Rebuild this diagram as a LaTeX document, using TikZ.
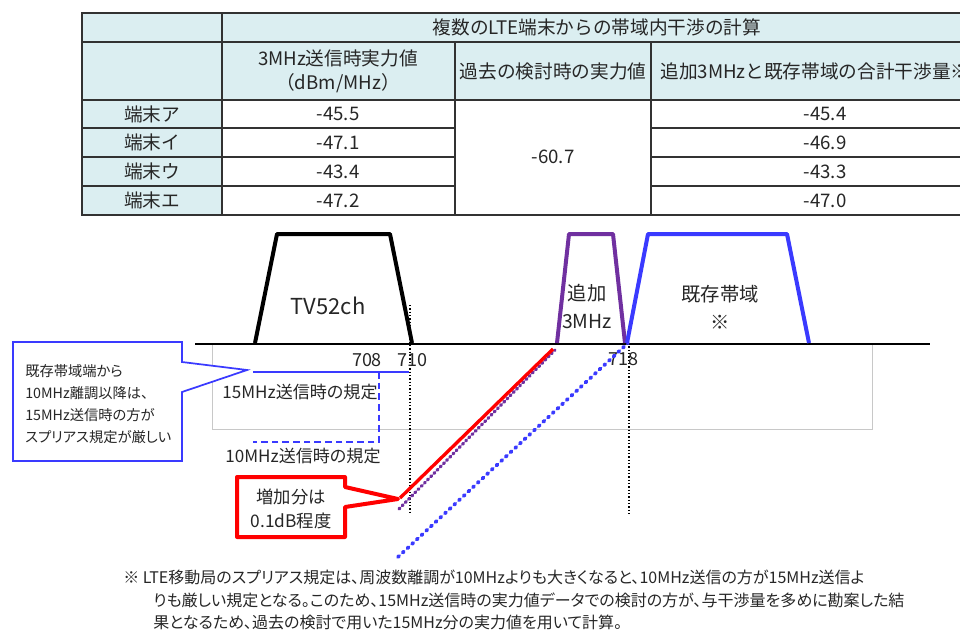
\documentclass[tikz,border=0pt]{standalone}
\usepackage{fontspec}
\setmainfont{Noto Sans CJK JP}[RawFeature=+palt]
\newfontfamily\tblfont{Noto Sans CJK JP}
\usepackage{xcolor}

\definecolor{cellblue}{RGB}{219,238,241}
\definecolor{bandblue}{RGB}{58,58,255}
\definecolor{addpurple}{RGB}{112,48,160}
\definecolor{framegray}{RGB}{200,200,200}
\definecolor{rulegray}{RGB}{50,50,50}

\begin{document}
\begin{tikzpicture}[x=0.75pt,y=0.75pt,yscale=-1,xscale=1,
    tblline/.style={draw=rulegray, line width=1.2pt},
    tbltext/.style={inner sep=0.75pt, text=black!85, font=\tblfont\fontsize{14}{18}\selectfont, align=center},
    bandline/.style={line width=3pt, line join=round},
    bandtext/.style={inner sep=0.75pt, text=black!85, font=\fontsize{14.5}{21}\selectfont, align=center},
    marktext/.style={inner sep=0.75pt, text=black!85, font=\fontsize{13.5}{16}\selectfont},
    freqline/.style={black, line width=1pt, dash pattern=on 1pt off 1.5pt},
    dotline/.style={line width=2.4pt, line cap=round, dash pattern=on 1pt off 2.4pt},
    notetext/.style={inner sep=0.75pt, text=black!85, font=\fontsize{12}{17}\selectfont, anchor=west}
  ]
\useasboundingbox (0,0) rectangle (960,629);

% ---------------- table ----------------
\begin{scope}
\clip (0,0) rectangle (960,629);
%Shape: header cells
\fill[cellblue] (82,13) rectangle (1000,100);
\fill[cellblue] (82,100) rectangle (222,215);
%Shape: rules
\draw[tblline] (82,13) rectangle (1000,215);
\draw[tblline] (82,42) -- (1000,42);
\draw[tblline] (82,100) -- (1000,100);
\draw[tblline] (222,13) -- (222,215);
\draw[tblline] (455,42) -- (455,215);
\draw[tblline] (651,42) -- (651,215);
\foreach \y in {128,157,186} {
  \draw[tblline] (82,\y) -- (455,\y);
  \draw[tblline] (651,\y) -- (1000,\y);
}
% Text Node
\node[tbltext] (title) at (597,27.5) {複数のLTE端末からの帯域内干渉の計算};
% Text Node
\node[tbltext] (hdrnow) at (338,71) {3MHz送信時実力値\\（dBm/MHz）};
% Text Node
\node[tbltext] (hdrpast) at (553,71) {過去の検討時の実力値};
% Text Node
\node[tbltext] (hdrsum) at (815,71) {追加3MHzと既存帯域の合計干渉量※};
% Text Node
\node[tbltext] (pastval) at (553,157) {-60.7};
\foreach \n/\y/\a/\b in {ア/114/-45.5/-45.4, イ/142.5/-47.1/-46.9, ウ/171.5/-43.4/-43.3, エ/200.5/-47.2/-47.0} {
  \node[tbltext] (term\n) at (152,\y) {端末\n};
  \node[tbltext] (now\n) at (338,\y) {\a};
  \node[tbltext] (sum\n) at (825,\y) {\b};
}
\end{scope}

% ---------------- spectrum ----------------
%Shape: Rectangle
\draw[framegray, line width=0.75pt] (212,343) rectangle (872,429);
%Straight Lines
\draw[black, line width=1.5pt] (195,344) -- (930,344);

% frequency marks
\coordinate (f710top) at (410,305);
\coordinate (f710bot) at (410,515);
\coordinate (f718top) at (629,343);
\coordinate (f718bot) at (629,514);
\draw[freqline] (f710top) -- (f710bot);
\draw[freqline] (f718top) -- (f718bot);

%Shape: TV52ch
\draw[bandline, black] (255,343) -- (277,234) -- (390,234) -- (412,343);
%Shape: added 3MHz
\draw[bandline, addpurple] (557,343) -- (569,234) -- (613,234) -- (625,343);
%Shape: existing band
\draw[bandline, bandblue] (627,343) -- (648,234) -- (787,234) -- (809,343);

% Text Node
\node[bandtext, font=\fontsize{16.5}{21}\selectfont] (tvlabel) at (328,306) {TV52ch};
% Text Node
\node[bandtext] (addlabel) at (587,306) {追加\\3MHz};
% Text Node
\node[bandtext] (bandlabel) at (720,307.5) {既存帯域\\※};
% Text Node
\node[marktext] (m708) at (367,360) {708};
\node[marktext] (m710) at (412,360) {710};
\node[marktext] (m718) at (623,359) {718};

% spurious limits
\coordinate (lim15a) at (253,372);
\coordinate (lim15b) at (409,372);
\coordinate (lim10a) at (379,372);
\coordinate (lim10b) at (379,442);
\coordinate (lim10c) at (253,442);
\draw[bandblue, line width=1.3pt] (lim15a) -- (lim15b);
\draw[bandblue, line width=1.3pt, dash pattern=on 5pt off 3pt] (lim10a) -- (lim10b) -- (lim10c);
% Text Node
\node[marktext, font=\fontsize{12.8}{16}\selectfont] (lim15txt) at (300,392) {15MHz送信時の規定};
% Text Node
\node[marktext, font=\fontsize{12.8}{16}\selectfont] (lim10txt) at (303,456) {10MHz送信時の規定};

% emission slopes
\coordinate (redlow) at (400,498);
\coordinate (redhigh) at (553,349);
\coordinate (purlow) at (399,509);
\coordinate (purhigh) at (555,350);
\coordinate (bluelow) at (398,557);
\coordinate (bluehigh) at (628,343);
\draw[dotline, addpurple] (purlow) -- (purhigh);
\draw[dotline, bandblue, line width=2.8pt, dash pattern=on 1.2pt off 3.6pt] (bluelow) -- (bluehigh);
\draw[red, line width=2.5pt] (redlow) -- (redhigh);

% ---------------- callouts ----------------
%Shape: blue callout
\draw[bandblue, line width=1.3pt, fill=white] (13,342) -- (182,342) -- (182,362) -- (247,370) -- (182,392) -- (182,461) -- (13,461) -- cycle;
% Text Node
\node[inner sep=0.75pt, text=black!85, font=\fontsize{10.7}{16.5}\selectfont, align=left, anchor=west] (bluenote) at (24,404) {既存帯域端から\\10MHz離調以降は、\\15MHz送信時の方が\\スプリアス規定が厳しい};

%Shape: red callout
\draw[red, line width=3pt, line join=round, fill=white] (237,477) -- (345,477) -- (345,487) -- (398,499) -- (345,507) -- (345,537) -- (237,537) -- cycle;
% Text Node
\node[inner sep=0.75pt, text=black!85, font=\fontsize{13}{18}\selectfont, align=center] (rednote) at (291,509) {増加分は\\0.1dB程度};

% ---------------- footnote ----------------
\node[notetext] (note1) at (122,577) {※ LTE移動局のスプリアス規定は、周波数離調が10MHzよりも大きくなると、10MHz送信の方が15MHz送信よ};
\node[notetext] (note2) at (152,600) {りも厳しい規定となる。このため、15MHz送信時の実力値データでの検討の方が、与干渉量を多めに勘案した結};
\node[notetext] (note3) at (152,622) {果となるため、過去の検討で用いた15MHz分の実力値を用いて計算。};

\end{tikzpicture}
\end{document}
